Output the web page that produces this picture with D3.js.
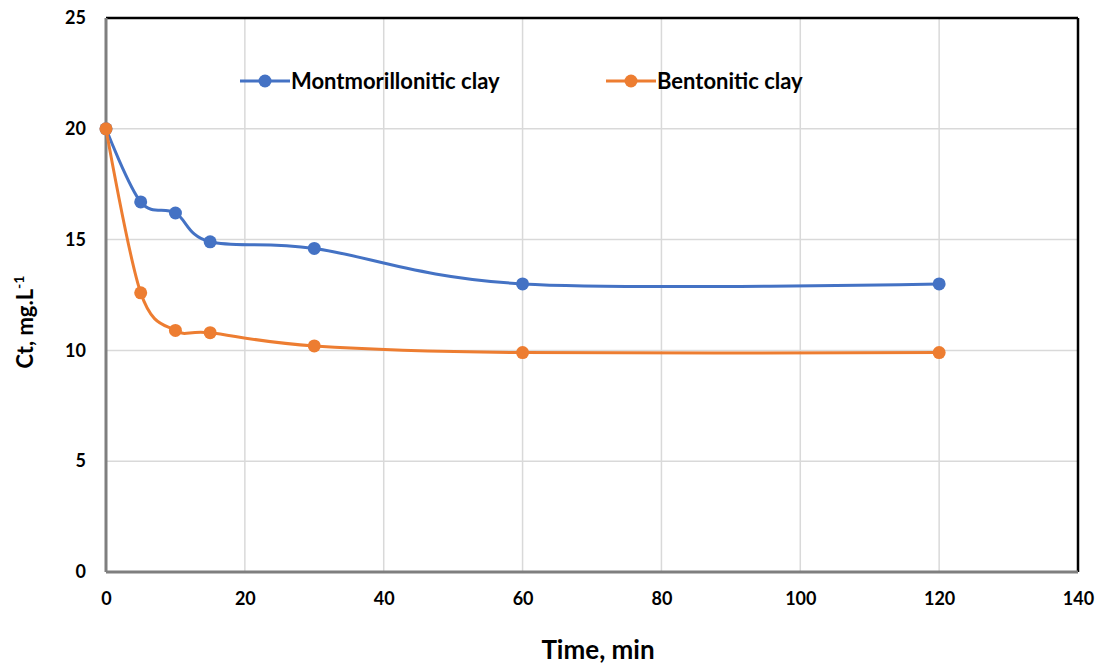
<!DOCTYPE html>
<html><head><meta charset="utf-8">
<script src="https://cdn.jsdelivr.net/npm/d3@7"></script>
<style>body{margin:0;background:#fff;}svg text{font-family:Lato,"Open Sans",sans-serif;font-weight:bold;fill:#000;}</style>
</head><body><svg id="c" width="1102" height="666"></svg>
<script>
const times = [0, 5, 10, 15, 30, 60, 120];
const montmorillonitic = [20, 16.7, 16.2, 14.9, 14.6, 13.0, 13.0];
const bentonitic = [20, 12.6, 10.9, 10.8, 10.2, 9.9, 9.9];
const seriesNames = ["Montmorillonitic clay", "Bentonitic clay"];
const seriesColors = ["#4472C4", "#ED7D31"];
const xTicks = [0, 20, 40, 60, 80, 100, 120, 140];
const yTicks = [0, 5, 10, 15, 20, 25];

const svg = d3.select("#c");
const L = 106, R = 1078, T = 18, B = 572;
const x = d3.scaleLinear().domain([0, 140]).range([L, R]);
const y = d3.scaleLinear().domain([0, 25]).range([B, T]);

// gridlines
svg.append("g").selectAll("line").data(xTicks.slice(1, -1)).join("line")
  .attr("x1", d => x(d)).attr("x2", d => x(d)).attr("y1", T).attr("y2", B)
  .attr("stroke", "#d9d9d9").attr("stroke-width", 1.5);
svg.append("g").selectAll("line").data(yTicks.slice(1, -1)).join("line")
  .attr("x1", L).attr("x2", R).attr("y1", d => y(d)).attr("y2", d => y(d))
  .attr("stroke", "#d9d9d9").attr("stroke-width", 1.5);

// frame: top/right black, left/bottom grey
svg.append("line").attr("x1", L).attr("x2", R).attr("y1", T).attr("y2", T).attr("stroke", "#000").attr("stroke-width", 2.5);
svg.append("line").attr("x1", R).attr("x2", R).attr("y1", T).attr("y2", B).attr("stroke", "#000").attr("stroke-width", 2.5);
svg.append("line").attr("x1", L).attr("x2", L).attr("y1", T).attr("y2", B).attr("stroke", "#7f7f7f").attr("stroke-width", 3);
svg.append("line").attr("x1", L).attr("x2", R).attr("y1", B).attr("y2", B).attr("stroke", "#7f7f7f").attr("stroke-width", 3);

// axes labels via d3 axes
const xAxis = svg.append("g").attr("transform", `translate(0,${B})`)
  .call(d3.axisBottom(x).tickValues(xTicks).tickSize(0).tickPadding(20));
xAxis.select(".domain").remove();
xAxis.selectAll("text").attr("font-size", 18).attr("font-family", "Lato").attr("font-weight", "bold");
const yAxis = svg.append("g").attr("transform", `translate(${L},0)`)
  .call(d3.axisLeft(y).tickValues(yTicks).tickSize(0).tickPadding(20));
yAxis.select(".domain").remove();
yAxis.selectAll("text").attr("font-size", 18).attr("font-family", "Lato").attr("font-weight", "bold");

// series
const data = [montmorillonitic, bentonitic];
const line = d3.line().x((d, i) => x(times[i])).y(d => y(d)).curve(d3.curveCatmullRom.alpha(0));
data.forEach((s, k) => {
  svg.append("path").attr("d", line(s)).attr("fill", "none")
    .attr("stroke", seriesColors[k]).attr("stroke-width", 3);
  svg.append("g").selectAll("circle").data(s).join("circle")
    .attr("cx", (d, i) => x(times[i])).attr("cy", d => y(d)).attr("r", 6.5)
    .attr("fill", seriesColors[k]);
});

// legend
const legendPos = [[240, 81], [606, 81]];
seriesNames.forEach((n, k) => {
  const [lx, ly] = legendPos[k];
  svg.append("line").attr("x1", lx).attr("x2", lx + 50).attr("y1", ly).attr("y2", ly)
    .attr("stroke", seriesColors[k]).attr("stroke-width", 3);
  svg.append("circle").attr("cx", lx + 25).attr("cy", ly).attr("r", 6.5).attr("fill", seriesColors[k]);
  svg.append("text").attr("x", lx + 51).attr("y", ly + 8).attr("font-size", 22).text(n);
});

// axis titles
svg.append("text").attr("x", 598).attr("y", 659).attr("text-anchor", "middle")
  .attr("font-size", 26).text("Time, min");
const yt = svg.append("text").attr("transform", "translate(33,322) rotate(-90)")
  .attr("text-anchor", "middle").attr("font-size", 22);
yt.append("tspan").text("Ct, mg.L");
yt.append("tspan").attr("dy", -9).attr("font-size", 14).text("-1");
</script></body></html>
